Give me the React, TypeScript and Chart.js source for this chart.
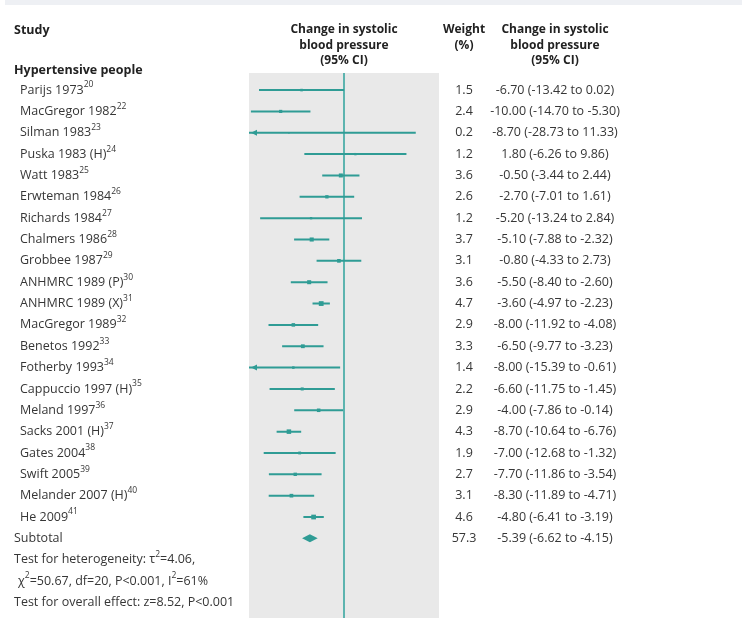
import React, { useEffect, useRef } from "react";
import { Chart, registerables } from "chart.js";
Chart.register(...registerables);

const studies = [
  "Parijs 1973", "MacGregor 1982", "Silman 1983", "Puska 1983 (H)", "Watt 1983",
  "Erwteman 1984", "Richards 1984", "Chalmers 1986", "Grobbee 1987", "ANHMRC 1989 (P)",
  "ANHMRC 1989 (X)", "MacGregor 1989", "Benetos 1992", "Fotherby 1993", "Cappuccio 1997 (H)",
  "Meland 1997", "Sacks 2001 (H)", "Gates 2004", "Swift 2005", "Melander 2007 (H)", "He 2009",
];
const refNums = ["20", "22", "23", "24", "25", "26", "27", "28", "29", "30", "31", "32", "33", "34", "35", "36", "37", "38", "39", "40", "41"];
const weights = [1.5, 2.4, 0.2, 1.2, 3.6, 2.6, 1.2, 3.7, 3.1, 3.6, 4.7, 2.9, 3.3, 1.4, 2.2, 2.9, 4.3, 1.9, 2.7, 3.1, 4.6];
const estimates = [-6.7, -10.0, -8.7, 1.8, -0.5, -2.7, -5.2, -5.1, -0.8, -5.5, -3.6, -8.0, -6.5, -8.0, -6.6, -4.0, -8.7, -7.0, -7.7, -8.3, -4.8];
const lowers = [-13.42, -14.7, -28.73, -6.26, -3.44, -7.01, -13.24, -7.88, -4.33, -8.4, -4.97, -11.92, -9.77, -15.39, -11.75, -7.86, -10.64, -12.68, -11.86, -11.89, -6.41];
const uppers = [0.02, -5.3, 11.33, 9.86, 2.44, 1.61, 2.84, -2.32, 2.73, -2.6, -2.23, -4.08, -3.23, -0.61, -1.45, -0.14, -6.76, -1.32, -3.54, -4.71, -3.19];
const subtotalWeight = 57.3;
const subtotalEstimate = -5.39;
const subtotalLower = -6.62;
const subtotalUpper = -4.15;
const xMin = -15;
const xMax = 15;

const TEAL = "#2f9c95";
const ZERO = "#5db4af";
const TEXT = "#363636";
const FONT = '"Open Sans", "DejaVu Sans", sans-serif';

type Part = { t: string; sup?: boolean };

function drawRich(ctx: CanvasRenderingContext2D, parts: Part[], x: number, y: number, bold = false) {
  let cx = x;
  for (const p of parts) {
    if (p.sup) {
      ctx.font = `8.5px ${FONT}`;
      ctx.fillText(p.t, cx, y - 5);
    } else {
      ctx.font = `${bold ? "bold " : ""}12.5px ${FONT}`;
      ctx.fillText(p.t, cx, y);
    }
    cx += ctx.measureText(p.t).width;
  }
}

const fmt = (v: number) => v.toFixed(2);

const forestPlugin = {
  id: "forest",
  beforeDraw(chart: any) {
    const { ctx, chartArea, width, height } = chart;
    ctx.save();
    ctx.fillStyle = "#ffffff";
    ctx.fillRect(0, 0, width, height);
    ctx.fillStyle = "#eef0f4";
    ctx.fillRect(5, 0, width - 5, 5);
    ctx.fillStyle = "#e9e9e9";
    ctx.fillRect(chartArea.left, chartArea.top, chartArea.right - chartArea.left, chartArea.bottom - chartArea.top);
    ctx.restore();
  },
  beforeDatasetsDraw(chart: any) {
    const { ctx, chartArea, scales } = chart;
    const x0 = scales.x.getPixelForValue(0);
    ctx.save();
    ctx.strokeStyle = ZERO;
    ctx.lineWidth = 2;
    ctx.beginPath();
    ctx.moveTo(x0, chartArea.top);
    ctx.lineTo(x0, chartArea.bottom);
    ctx.stroke();
    ctx.restore();
  },
  afterDatasetsDraw(chart: any) {
    const { ctx, chartArea, scales } = chart;
    ctx.save();
    ctx.fillStyle = TEAL;
    lowers.forEach((lo, i) => {
      if (lo < xMin) {
        const y = scales.y.getPixelForValue(i);
        const tip = chartArea.left + 2;
        ctx.beginPath();
        ctx.moveTo(tip, y);
        ctx.lineTo(tip + 6, y - 3);
        ctx.lineTo(tip + 6, y + 3);
        ctx.closePath();
        ctx.fill();
      }
    });
    const yS = scales.y.getPixelForValue(studies.length);
    const xl = scales.x.getPixelForValue(subtotalLower);
    const xe = scales.x.getPixelForValue(subtotalEstimate);
    const xh = scales.x.getPixelForValue(subtotalUpper);
    ctx.beginPath();
    ctx.moveTo(xl, yS);
    ctx.lineTo(xe, yS - 4);
    ctx.lineTo(xh, yS);
    ctx.lineTo(xe, yS + 4);
    ctx.closePath();
    ctx.fill();
    ctx.restore();
  },
  afterDraw(chart: any) {
    const { ctx, scales } = chart;
    const ys = (r: number) => scales.y.getPixelForValue(r);
    ctx.save();
    ctx.textBaseline = "middle";
    ctx.textAlign = "left";
    ctx.fillStyle = "#222";
    ctx.font = `bold 12.5px ${FONT}`;
    ctx.fillText("Study", 14, 30);
    ctx.fillText("Hypertensive people", 14, 70);
    ctx.textAlign = "center";
    ctx.font = `bold 12px ${FONT}`;
    const hx = scales.x.getPixelForValue(0);
    ["Change in systolic", "blood pressure", "(95% CI)"].forEach((t, k) => ctx.fillText(t, hx, 30 + k * 15.5));
    ["Weight", "(%)"].forEach((t, k) => ctx.fillText(t, 464, 30 + k * 15.5));
    ["Change in systolic", "blood pressure", "(95% CI)"].forEach((t, k) => ctx.fillText(t, 555, 30 + k * 15.5));
    ctx.fillStyle = TEXT;
    studies.forEach((s, i) => {
      const y = ys(i);
      ctx.textAlign = "left";
      drawRich(ctx, [{ t: s }, { t: refNums[i], sup: true }], 20, y);
      ctx.textAlign = "center";
      ctx.font = `12.5px ${FONT}`;
      ctx.fillText(weights[i].toFixed(1), 464, y);
      ctx.fillText(`${fmt(estimates[i])} (${fmt(lowers[i])} to ${fmt(uppers[i])})`, 555, y);
    });
    const n = studies.length;
    ctx.textAlign = "left";
    drawRich(ctx, [{ t: "Subtotal" }], 14, ys(n));
    ctx.textAlign = "center";
    ctx.font = `12.5px ${FONT}`;
    ctx.fillText(subtotalWeight.toFixed(1), 464, ys(n));
    ctx.fillText(`${fmt(subtotalEstimate)} (${fmt(subtotalLower)} to ${fmt(subtotalUpper)})`, 555, ys(n));
    ctx.textAlign = "left";
    drawRich(ctx, [{ t: "Test for heterogeneity: τ" }, { t: "2", sup: true }, { t: "=4.06," }], 14, ys(n + 1));
    drawRich(ctx, [{ t: "χ" }, { t: "2", sup: true }, { t: "=50.67, df=20, P<0.001, I" }, { t: "2", sup: true }, { t: "=61%" }], 18, ys(n + 2));
    drawRich(ctx, [{ t: "Test for overall effect: z=8.52, P<0.001" }], 14, ys(n + 3));
    ctx.restore();
  },
};

export default function App() {
  const ref = useRef<HTMLCanvasElement | null>(null);
  useEffect(() => {
    document.body.style.margin = "0";
    const canvas = ref.current!;
    const ciData: any[] = [];
    studies.forEach((_, i) => {
      ciData.push({ x: lowers[i], y: i }, { x: uppers[i], y: i }, { x: uppers[i], y: null });
    });
    const pointData = estimates.map((e, i) => ({ x: e, y: i }));
    const chart = new Chart(canvas, {
      type: "scatter",
      data: {
        datasets: [
          {
            data: ciData,
            showLine: true,
            borderColor: TEAL,
            borderWidth: 2,
            pointRadius: 0,
            spanGaps: false,
          } as any,
          {
            data: pointData,
            pointStyle: "rect",
            pointRadius: weights.map((w) => (1.5 + 0.7 * w) / Math.SQRT2),
            backgroundColor: TEAL,
            borderColor: TEAL,
            borderWidth: 0,
          } as any,
        ],
      },
      options: {
        animation: false,
        responsive: false,
        events: [],
        layout: { autoPadding: false, padding: { left: 249, right: 303, top: 73, bottom: 0 } },
        plugins: { legend: { display: false }, tooltip: { enabled: false } },
        scales: {
          x: { type: "linear", min: xMin, max: xMax, display: false },
          y: { type: "linear", min: -0.8, max: 24.73, reverse: true, display: false },
        },
      },
      plugins: [forestPlugin],
    });
    return () => chart.destroy();
  }, []);
  return (
    <div style={{ position: "absolute", left: 0, top: 0, width: 742, height: 618 }}>
      <canvas ref={ref} width={742} height={618} style={{ width: 742, height: 618 }} />
    </div>
  );
}
